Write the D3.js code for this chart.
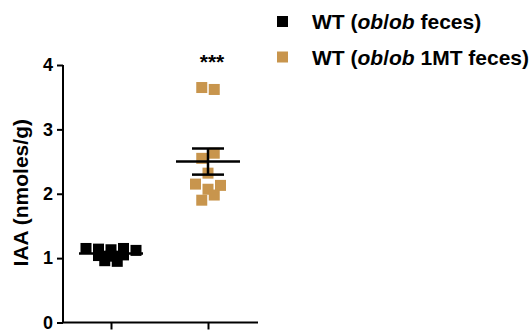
<!DOCTYPE html>
<html>
<head>
<meta charset="utf-8">
<script src="https://cdn.jsdelivr.net/npm/d3@7"></script>
<style>
  body { margin: 0; background: #fff; }
  text { font-family: "Liberation Sans", Arial, sans-serif; font-weight: bold; }
</style>
</head>
<body>
<svg id="chart"></svg>
<script>
// data
const groups = ["WT (ob/ob feces)", "WT (ob/ob 1MT feces)"];
const colors = ["#000000", "#C8954D"];
const wtObFeces = [1.15, 1.14, 1.13, 1.15, 1.12, 1.04, 1.03, 1.05, 0.96, 0.95];
const wtOb1mtFeces = [3.65, 3.62, 2.55, 2.63, 2.32, 2.15, 2.07, 2.13, 1.90, 1.98];
const yTicks = [0, 1, 2, 3, 4];
const significance = "***";

const values = [wtObFeces, wtOb1mtFeces];

const width = 532, height = 330;
const margin = { top: 65, left: 63 };
const plotW = 195, plotH = 257.5;
const sq = 11;
const step = 12.5;

const svg = d3.select("#chart").attr("width", width).attr("height", height);
const g = svg.append("g").attr("transform", `translate(${margin.left},${margin.top})`);

const x = d3.scalePoint().domain(groups).range([48, 145]);
const y = d3.scaleLinear().domain([0, 4]).range([plotH, 0]);

// axes
const yAxis = g.append("g").call(d3.axisLeft(y).tickValues(yTicks).tickSize(6).tickPadding(4).tickFormat(d3.format("d")));
yAxis.select(".domain").attr("stroke-width", 2).attr("d", `M0,0V${plotH}`);
yAxis.selectAll(".tick line").attr("stroke-width", 2);
yAxis.selectAll(".tick text").attr("font-size", 18).attr("font-family", null).attr("fill", "#000");

const xAxis = g.append("g").attr("transform", `translate(0,${plotH})`)
  .call(d3.axisBottom(x).tickSize(7).tickFormat(""));
xAxis.select(".domain").attr("stroke-width", 2).attr("d", `M0,0H${plotW}`);
xAxis.selectAll(".tick line").attr("stroke-width", 2);

// y label
g.append("text")
  .attr("transform", `translate(-35,${plotH / 2 - 1}) rotate(-90)`)
  .attr("text-anchor", "middle")
  .attr("font-size", 21)
  .text("IAA (nmoles/g)");

// scatter layout: points close together vertically share a row, rows are centred
function rowLayout(vals, cx) {
  const pts = vals.map((v, i) => ({ v, i, y: y(v) }));
  const sorted = pts.slice().sort((a, b) => b.v - a.v);
  const rows = [];
  sorted.forEach(p => {
    const last = rows[rows.length - 1];
    if (last && p.y - last[0].y < 5.5) last.push(p);
    else rows.push([p]);
  });
  rows.forEach(r => {
    r.sort((a, b) => a.i - b.i);
    r.forEach((p, k) => { p.x = cx + (k - (r.length - 1) / 2) * step; });
  });
  return pts;
}

values.forEach((vals, i) => {
  const cx = x(groups[i]);
  const nodes = rowLayout(vals, cx);

  g.append("g").selectAll("rect")
    .data(nodes)
    .join("rect")
    .attr("x", d => d.x - sq / 2)
    .attr("y", d => d.y - sq / 2)
    .attr("width", sq)
    .attr("height", sq)
    .attr("fill", colors[i]);

  const m = d3.mean(vals);
  const sem = d3.deviation(vals) / Math.sqrt(vals.length);
  const eb = g.append("g").attr("stroke", "#000").attr("stroke-width", 2.5);
  eb.append("line").attr("x1", cx - 32).attr("x2", cx + 32).attr("y1", y(m)).attr("y2", y(m));
  eb.append("line").attr("x1", cx).attr("x2", cx).attr("y1", y(m + sem)).attr("y2", y(m - sem));
  eb.append("line").attr("x1", cx - 16).attr("x2", cx + 16).attr("y1", y(m + sem)).attr("y2", y(m + sem));
  eb.append("line").attr("x1", cx - 16).attr("x2", cx + 16).attr("y1", y(m - sem)).attr("y2", y(m - sem));
});

// significance mark
g.append("text")
  .attr("x", x(groups[1]) + 4)
  .attr("y", 4)
  .attr("text-anchor", "middle")
  .attr("font-size", 21)
  .text(significance);

// legend
const legend = svg.append("g").attr("transform", "translate(277,0)");
groups.forEach((name, i) => {
  const row = legend.append("g").attr("transform", `translate(0,${21.5 + i * 35.5})`);
  row.append("rect").attr("x", 0).attr("y", -sq / 2).attr("width", sq).attr("height", sq).attr("fill", colors[i]);
  const t = row.append("text").attr("x", 35).attr("y", 7.5).attr("font-size", 21);
  name.split(/(ob)/).forEach(part => {
    if (!part) return;
    t.append("tspan").attr("font-style", part === "ob" ? "italic" : null).text(part);
  });
});
</script>
</body>
</html>
